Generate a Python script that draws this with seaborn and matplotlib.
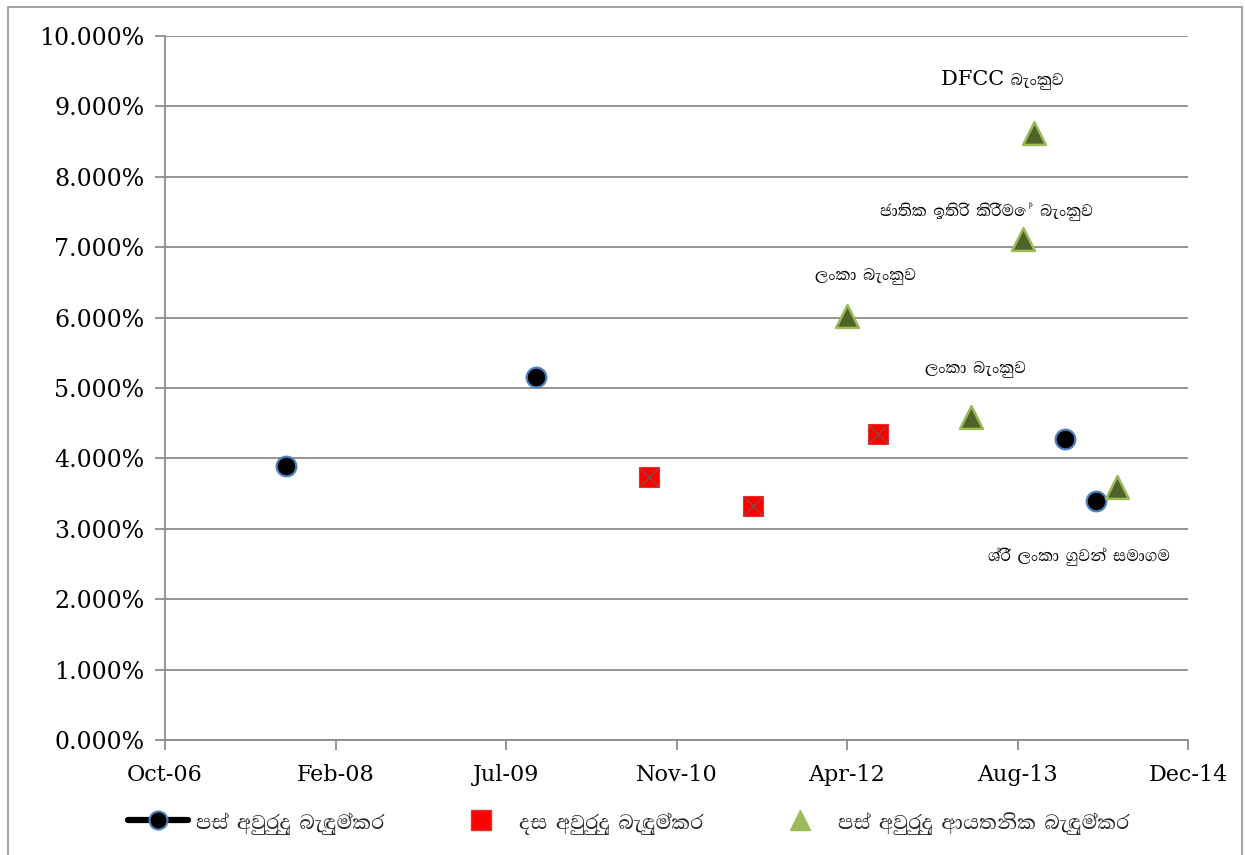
import matplotlib
matplotlib.use("Agg")
import matplotlib.pyplot as plt
import matplotlib.dates as mdates
from matplotlib import font_manager as fm
from matplotlib.lines import Line2D
from matplotlib.patches import Rectangle
import seaborn as sns
import pandas as pd

# ---------------- data ----------------
five_year_dates = ["2007-09-30", "2009-10-02", "2013-12-31", "2014-04-01"]
five_year_rates = [3.89, 5.15, 4.28, 3.40]

ten_year_dates = ["2010-08-29", "2011-06-30", "2012-07-01"]
ten_year_rates = [3.74, 3.33, 4.35]

floating_dates = ["2012-04-01", "2013-03-31", "2013-08-30", "2013-10-01", "2014-06-02"]
floating_rates = [6.02, 4.59, 7.12, 8.62, 3.60]
floating_labels = ["ලංකා බැංකුව", "ලංකා බැංකුව", "ජාතික ඉතිරි කිරීමේ බැංකුව",
                   "DFCC බැංකුව", "ශ්‍රී ලංකා ගුවන් සමාගම"]

series_names = ["පස් අවුරුදු බැඳුම්කර", "දස අවුරුදු බැඳුම්කර",
                "පස් අවුරුදු ආයතනික බැඳුම්කර"]

y_ticks = [0, 1, 2, 3, 4, 5, 6, 7, 8, 9, 10]
x_start, x_end = "2006-10-10", "2014-12-27"

# label placement (pixel offsets from each point)
label_offsets = [(19, 41), (4, 48), (-36, 27), (-31, 54), (-38, -70)]

# ---------------- fonts ----------------
sns.set_theme(style="white")
sinhala = []
for f in fm.fontManager.ttflist:
    n = f.name.lower()
    if "sinhala" in n or "iskoola" in n or "abhaya" in n or "lklug" in n:
        if f.name not in sinhala:
            sinhala.append(f.name)
base_serif = "DejaVu Serif"
fam = [base_serif] + sinhala + ["DejaVu Sans"]
plt.rcParams["font.family"] = fam

# ---------------- figure ----------------
fig = plt.figure(figsize=(12.45, 8.55), dpi=100)
ax = fig.add_axes([165 / 1245, 1 - 740 / 855, (1188 - 165) / 1245, (740 - 36) / 855])

df5 = pd.DataFrame({"date": pd.to_datetime(five_year_dates), "rate": five_year_rates})
df10 = pd.DataFrame({"date": pd.to_datetime(ten_year_dates), "rate": ten_year_rates})
dff = pd.DataFrame({"date": pd.to_datetime(floating_dates), "rate": floating_rates,
                    "label": floating_labels})

sns.scatterplot(data=df5, x="date", y="rate", ax=ax, marker="o", s=200,
                color="black", edgecolor="#4F81BD", linewidth=1.6, zorder=4)
sns.scatterplot(data=df10, x="date", y="rate", ax=ax, marker="s", s=215,
                color="#FF0000", edgecolor="#E83030", linewidth=0.8, zorder=4)
sns.scatterplot(data=df10, x="date", y="rate", ax=ax, marker="x", s=170,
                color="#8a4a4a", linewidth=1.0, zorder=5)
sns.scatterplot(data=dff, x="date", y="rate", ax=ax, marker="^", s=270,
                color="#4F6228", edgecolor="#9BBB59", linewidth=1.8, zorder=4)

for (d, r, lab), (dx, dy) in zip(zip(dff["date"], dff["rate"], dff["label"]), label_offsets):
    ax.annotate(lab, xy=(d, r), xytext=(dx, dy), textcoords="offset pixels",
                ha="center", va="center", fontsize=15, color="black")

ax.set_xlim(pd.Timestamp(x_start), pd.Timestamp(x_end))
ax.set_ylim(0, 10)
ticks = pd.date_range(x_start, x_end, freq="500D")
ax.set_xticks(ticks)
ax.xaxis.set_major_formatter(mdates.DateFormatter("%b-%y"))
ax.set_yticks(y_ticks)
ax.set_yticklabels([f"{v:.3f}%" for v in y_ticks])
ax.set_xlabel("")
ax.set_ylabel("")

ax.grid(axis="y", color="#8c8c8c", linewidth=1.3)
ax.grid(axis="x", visible=False)
for s in ["top", "right"]:
    ax.spines[s].set_visible(False)
for s in ["left", "bottom"]:
    ax.spines[s].set_color("#8c8c8c")
    ax.spines[s].set_linewidth(1.3)
ax.tick_params(axis="both", which="major", length=7, width=1.3, color="#8c8c8c",
               labelsize=16, labelcolor="black", direction="out", pad=8)
ax.tick_params(axis="y", labelsize=17)
ax.tick_params(axis="x", pad=10)
ax.tick_params(bottom=True, left=True)

# legend
h1 = Line2D([], [], color="black", linewidth=4.5, marker="o", markersize=13,
            markerfacecolor="black", markeredgecolor="#4F81BD", markeredgewidth=1.5)
h2 = Line2D([], [], linestyle="none", marker="s", markersize=14,
            markerfacecolor="#FF0000", markeredgecolor="#E83030")
h3 = Line2D([], [], linestyle="none", marker="^", markersize=14,
            markerfacecolor="#9BBB59", markeredgecolor="#9BBB59")
fig.legend([h1, h2, h3], series_names, loc="center",
           bbox_to_anchor=(0.505, 1 - 822 / 855), ncol=3, frameon=False,
           fontsize=19, columnspacing=2.5, handlelength=2.3, handletextpad=0.3)

# outer border
fig.patches.append(Rectangle((8 / 1245, -0.01), (1242 - 8) / 1245, 1 - 7 / 855 + 0.01,
                             transform=fig.transFigure, fill=False,
                             edgecolor="#9a9a9a", linewidth=1.3))

fig.savefig("out.png", dpi=100)
